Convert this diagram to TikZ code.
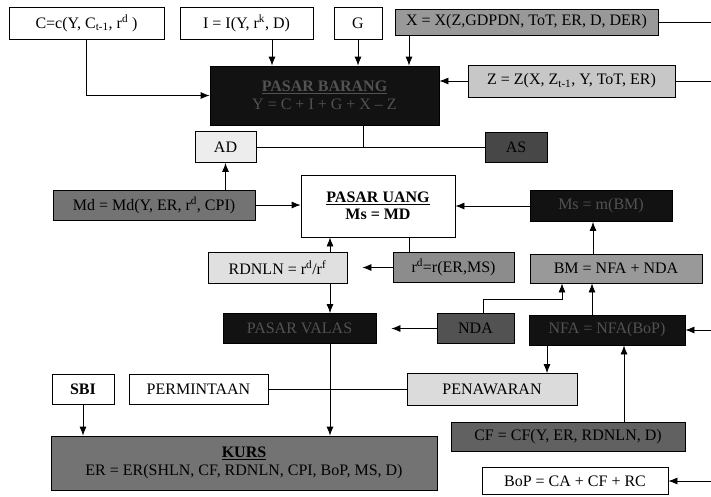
\documentclass[tikz,border=0pt]{standalone}
\usepackage{fontspec}
\setmainfont{Liberation Serif}
\usetikzlibrary{arrows.meta}

\tikzset{
  box/.style={draw, line width=0.8pt, inner sep=1pt, align=center, fill=#1,
    font=\fontsize{16}{17.5}\selectfont},
  box/.default=white,
  blackbox/.style={box=black!93, text=black!68},
  conn/.style={line width=0.8pt},
  arr/.style={conn, -{Latex[length=9pt,width=7pt]}},
}

\begin{document}
\begin{tikzpicture}[x=1pt,y=-1pt]
\useasboundingbox (0,0) rectangle (711,496);

% top row
\node[box, minimum width=155pt, minimum height=32pt] (cfun) at (86.5,23) {C=c(Y, C\textsubscript{t-1}, r\textsuperscript{d} )};
\node[box, minimum width=133pt, minimum height=32pt] (inv) at (246.5,23) {I = I(Y, r\textsuperscript{k}, D)};
\node[box, minimum width=48pt, minimum height=32pt] (gov) at (358,23) {G};
\node[box=black!40, minimum width=263pt, minimum height=26pt] (ekspor) at (526.5,22) {X = X(Z,GDPDN, ToT, ER, D, DER)};
\node[box=black!22, minimum width=207pt, minimum height=32pt] (impor) at (571.5,81) {Z = Z(X, Z\textsubscript{t-1}, Y, ToT, ER)};
\node[blackbox, minimum width=229pt, minimum height=59pt] (pbarang) at (324.5,95.5) {\textbf{\underline{PASAR BARANG}}\\ Y = C + I + G + X -- Z};

% AD / AS
\node[box=black!7, minimum width=61pt, minimum height=31pt] (ad) at (225.5,147) {AD};
\node[box=black!72, minimum width=62pt, minimum height=30pt] (as) at (516,147) {AS};

% money market
\node[box=black!55, minimum width=202pt, minimum height=30pt] (md) at (154,205) {Md = Md(Y, ER, r\textsuperscript{d}, CPI)};
\node[box, minimum width=154pt, minimum height=62pt] (puang) at (378,206) {\textbf{\underline{PASAR UANG}}\\ \textbf{Ms = MD}};
\node[blackbox, minimum width=142pt, minimum height=31pt] (ms) at (601,206) {Ms = m(BM)};
\node[box=black!12, minimum width=139pt, minimum height=31pt] (rdnln) at (277.5,267.5) {RDNLN = r\textsuperscript{d}/r\textsuperscript{f}};
\node[box=black!45, minimum width=121pt, minimum height=30pt] (rd) at (453.5,267.5) {r\textsuperscript{d}=r(ER,MS)};
\node[box=black!40, minimum width=172pt, minimum height=29pt] (bm) at (616,268.5) {BM = NFA + NDA};

% forex
\node[blackbox, minimum width=153pt, minimum height=30pt] (valas) at (299.5,328.5) {PASAR VALAS};
\node[box=black!68, minimum width=77pt, minimum height=30pt] (nda) at (475.5,328.5) {NDA};
\node[blackbox, minimum width=156pt, minimum height=30pt] (nfa) at (607,330) {NFA = NFA(BoP)};
\node[box, minimum width=62pt, minimum height=30pt] (sbi) at (83,389) {\textbf{SBI}};
\node[box, minimum width=139pt, minimum height=30pt] (perm) at (198.5,389.5) {PERMINTAAN};
\node[box=black!14, minimum width=170pt, minimum height=32pt] (pen) at (492,389.5) {PENAWARAN};
\node[box=black!55, minimum width=386pt, minimum height=54pt] (kurs) at (244,463) {\textbf{\underline{KURS}}\\ ER = ER(SHLN, CF, RDNLN, CPI, BoP, MS, D)};
\node[box=black!62, minimum width=234pt, minimum height=29pt] (cf) at (568,436.5) {CF = CF(Y, ER, RDNLN, D)};
\node[box, minimum width=186pt, minimum height=27pt] (bop) at (575,481) {BoP = CA + CF + RC};

% free ends at the right margin
\coordinate (xend) at (711,22);
\coordinate (zend) at (711,81);
\coordinate (nfain) at (711,330);
\coordinate (bopin) at (711,481);

% connectors
\draw[arr] (cfun.south) |- (pbarang.west);
\draw[arr] (inv.south -| 272,0) -- (272,0 |- pbarang.north);
\draw[arr] (gov.south) -- (gov.south |- pbarang.north);
\draw[arr] (ekspor.south -| 409,0) -- (409,0 |- pbarang.north);
\draw[arr] (impor.west) -- (impor.west -| pbarang.east);
\draw[conn] (ekspor.east) -- (xend);
\draw[conn] (impor.east) -- (zend);
\draw[conn] (pbarang.south -| 363,0) -- (363,0 |- ad.east);
\draw[conn] (ad.east) -- (as.west);
\draw[arr] (md.north -| ad.south) -- (ad.south);
\draw[arr] (md.east) -- (md.east -| puang.west);
\draw[arr] (ms.west) -- (ms.west -| puang.east);
\draw[arr] (bm.north -| 593,0) -- (593,0 |- ms.south);
\draw[arr] (rdnln.north -| 330,0) -- (330,0 |- puang.south);
\draw[conn] (puang.south -| 409,0) -- (409,0 |- rd.north);
\draw[arr, shorten >=15pt] (rd.west) -- (rd.west -| rdnln.east);
\draw[arr] (rdnln.south -| 330,0) -- (330,0 |- valas.north);
\draw[arr] (valas.south -| 330,0) -- (330,0 |- kurs.north);
\draw[arr] (nda.north -| 483,0) |- (562,299) -- (562,0 |- bm.south);
\draw[arr, shorten >=15pt] (nda.west) -- (nda.west -| valas.east);
\draw[arr] (nfa.north -| 592,0) -- (592,0 |- bm.south);
\draw[arr] (nfain) -- (nfa.east);
\draw[arr] (nfa.south -| 547,0) -- (547,0 |- pen.north);
\draw[arr] (cf.north -| 624,0) -- (624,0 |- nfa.south);
\draw[conn] (perm.east) -- (perm.east -| pen.west);
\draw[arr] (sbi.south) -- (sbi.south |- kurs.north);
\draw[arr] (bopin) -- (bop.east);
\end{tikzpicture}
\end{document}
